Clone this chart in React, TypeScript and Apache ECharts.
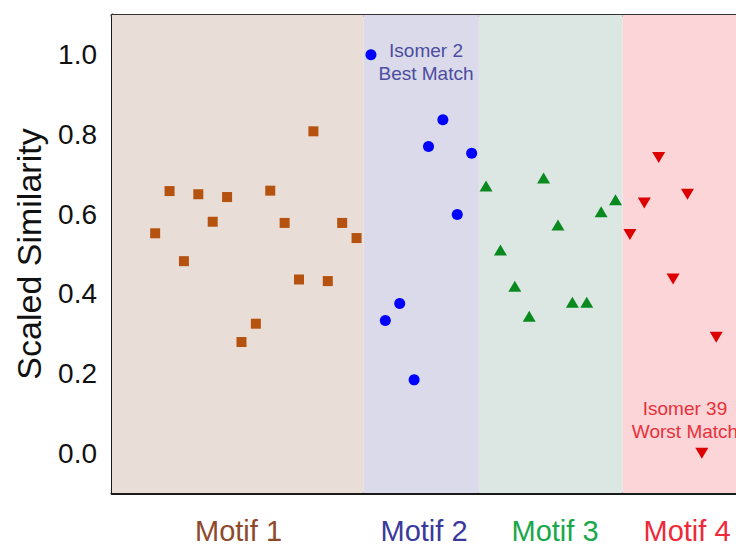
import React, { useEffect, useRef } from "react";
import * as echarts from "echarts";

// Scaled similarity of each isomer, grouped by structural motif (isomers numbered consecutively)
const motif1Values = [0.552, 0.658, 0.482, 0.65, 0.581, 0.643, 0.279, 0.325, 0.659, 0.578, 0.436, 0.808, 0.432, 0.578, 0.54];
const motif2Values = [1.0, 0.333, 0.376, 0.184, 0.77, 0.837, 0.599, 0.753];
const motif3Values = [0.671, 0.51, 0.419, 0.344, 0.691, 0.573, 0.379, 0.379, 0.606, 0.636];
const motif4Values = [0.549, 0.628, 0.742, 0.437, 0.65, 0.0, 0.291];

const motifNames = ["Motif 1", "Motif 2", "Motif 3", "Motif 4"];
const yMajorTicks = [0, 0.2, 0.4, 0.6, 0.8, 1.0];
const yMinorTicks = [0.1, 0.3, 0.5, 0.7, 0.9];

const FONT = "'Liberation Sans', Arial, sans-serif";
const AXIS = "#1a1a1a";

const motifColors = ["#b5520f", "#0000ff", "#0a8a1e", "#dd0000"];
const labelColors = ["#8f4a2c", "#3a3a9c", "#16a84a", "#ee2a3a"];
const bandColors = ["#e9ddd7", "#dadaea", "#dce7e4", "#fcd5d8"];

const groups = [motif1Values, motif2Values, motif3Values, motif4Values];

// consecutive isomer numbers across motifs
function buildSeriesData() {
  const out: number[][][] = [];
  let n = 1;
  for (const g of groups) {
    const pts: number[][] = [];
    for (const v of g) {
      pts.push([n, v]);
      n += 1;
    }
    out.push(pts);
  }
  return out;
}

export default function App() {
  const ref = useRef<HTMLDivElement>(null);

  useEffect(() => {
    if (!ref.current) return;
    const chart = echarts.init(ref.current, undefined, { renderer: "svg" });
    const data = buildSeriesData();

    // band edges halfway between neighbouring motifs
    const edges: number[] = [-2];
    for (let i = 0; i < data.length - 1; i++) {
      const last = data[i][data[i].length - 1][0];
      edges.push(last + 0.5);
    }
    edges.push(42);

    const bands = motifNames.map((name, i) => [
      { name, xAxis: edges[i], itemStyle: { color: bandColors[i] } },
      { xAxis: edges[i + 1] },
    ]);

    const symbols = [
      { symbol: "rect", symbolSize: 10, symbolRotate: 0 },
      { symbol: "circle", symbolSize: 11, symbolRotate: 0 },
      { symbol: "triangle", symbolSize: [13, 11], symbolRotate: 0 },
      { symbol: "triangle", symbolSize: [13, 11], symbolRotate: 180 },
    ];

    const yBase = { type: "value", min: -0.1, max: 1.1, splitLine: { show: false } };

    chart.setOption({
      animation: false,
      grid: {
        left: 112,
        top: 15,
        width: 633,
        height: 478,
        containLabel: false,
        outerBoundsMode: "none",
      },
      xAxis: [
        {
          type: "value",
          min: -2,
          max: 42,
          position: "bottom",
          axisLine: { show: true, onZero: false, lineStyle: { color: AXIS, width: 3 } },
          axisTick: { show: false },
          axisLabel: { show: false },
          splitLine: { show: false },
        },
        {
          type: "value",
          min: -2,
          max: 42,
          position: "top",
          axisLine: { show: true, onZero: false, lineStyle: { color: "#333", width: 3 } },
          axisTick: { show: false },
          axisLabel: { show: false },
          splitLine: { show: false },
        },
      ],
      yAxis: [
        {
          ...yBase,
          position: "left",
          name: "Scaled Similarity",
          nameLocation: "middle",
          nameGap: 66,
          nameTextStyle: { fontFamily: FONT, fontSize: 34, color: "#111" },
          axisLine: { show: true, onZero: false, lineStyle: { color: AXIS, width: 3 } },
          axisTick: {
            show: true,
            inside: true,
            length: 13,
            lineStyle: { color: AXIS, width: 3 },
            customValues: yMajorTicks,
          },
          axisLabel: {
            show: true,
            margin: 15,
            fontFamily: FONT,
            fontSize: 28,
            color: "#111",
            customValues: yMajorTicks,
            formatter: (v: number) => v.toFixed(1),
          },
        },
        {
          ...yBase,
          position: "left",
          axisLine: { show: false },
          axisTick: {
            show: true,
            inside: true,
            length: 7,
            lineStyle: { color: AXIS, width: 3 },
            customValues: yMinorTicks,
          },
          axisLabel: { show: false },
        },
        {
          ...yBase,
          position: "right",
          axisLine: { show: true, onZero: false, lineStyle: { color: AXIS, width: 3 } },
          axisTick: {
            show: true,
            inside: true,
            length: 13,
            lineStyle: { color: AXIS, width: 3 },
            customValues: yMajorTicks,
          },
          axisLabel: { show: false },
        },
      ],
      series: data.map((pts, i) => ({
        type: "scatter",
        name: motifNames[i],
        xAxisIndex: 0,
        yAxisIndex: 0,
        data: pts,
        symbol: symbols[i].symbol,
        symbolSize: symbols[i].symbolSize,
        symbolRotate: symbols[i].symbolRotate,
        itemStyle: { color: motifColors[i], opacity: 1 },
        z: 5,
        ...(i === 0
          ? {
              markArea: {
                silent: true,
                z: 1,
                label: { show: false },
                data: bands,
              },
            }
          : {}),
      })),
      graphic: [
        {
          type: "text",
          z: 100,
          x: 426,
          y: 62,
          style: {
            text: "Isomer 2\nBest Match",
            fill: "#4c4ca0",
            font: `19px ${FONT}`,
            textAlign: "center",
            textVerticalAlign: "middle",
            lineHeight: 23,
          },
        },
        {
          type: "text",
          z: 100,
          x: 685,
          y: 420,
          style: {
            text: "Isomer 39\nWorst Match",
            fill: "#e8303a",
            font: `19px ${FONT}`,
            textAlign: "center",
            textVerticalAlign: "middle",
            lineHeight: 23,
          },
        },
        ...motifNames.map((name, i) => ({
          type: "text",
          z: 100,
          x: [238.5, 424, 555, 687][i],
          y: 531,
          style: {
            text: name,
            fill: labelColors[i],
            font: `29px ${FONT}`,
            lineHeight: 26,
            textAlign: "center",
            textVerticalAlign: "middle",
          },
        })),
      ],
    });

    return () => chart.dispose();
  }, []);

  return (
    <div
      ref={ref}
      style={{ position: "fixed", left: 0, top: 0, width: 736, height: 545, background: "#fff" }}
    />
  );
}
